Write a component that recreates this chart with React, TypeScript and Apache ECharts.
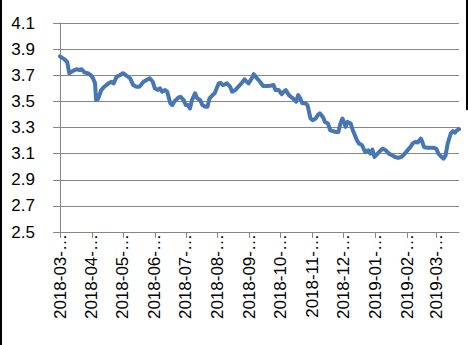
import React, { useEffect, useRef } from "react";
import * as echarts from "echarts";

// Dates (yyyy-mm-dd) and yield values
const dates: string[] = [
  "2018-03-01","2018-03-06","2018-03-08","2018-03-10","2018-03-14","2018-03-17","2018-03-20","2018-03-22","2018-03-25","2018-03-28","2018-03-31",
  "2018-04-02","2018-04-04","2018-04-05","2018-04-07","2018-04-10","2018-04-13","2018-04-17","2018-04-20","2018-04-22","2018-04-25","2018-04-28",
  "2018-05-01","2018-05-04","2018-05-08","2018-05-11","2018-05-14","2018-05-17","2018-05-21","2018-05-24","2018-05-27","2018-05-30",
  "2018-06-01","2018-06-04","2018-06-06","2018-06-08","2018-06-11","2018-06-13","2018-06-16","2018-06-18","2018-06-20","2018-06-24","2018-06-26","2018-06-29",
  "2018-07-01","2018-07-03","2018-07-05","2018-07-07","2018-07-10","2018-07-12","2018-07-15","2018-07-17","2018-07-20","2018-07-22","2018-07-24","2018-07-27","2018-07-29",
  "2018-08-02","2018-08-04","2018-08-06","2018-08-10","2018-08-13","2018-08-15","2018-08-18","2018-08-21","2018-08-24","2018-08-27","2018-08-29","2018-08-31",
  "2018-09-03","2018-09-05","2018-09-08","2018-09-11","2018-09-14","2018-09-18","2018-09-21","2018-09-24","2018-09-26","2018-09-29",
  "2018-10-02","2018-10-04","2018-10-06","2018-10-09","2018-10-11","2018-10-13","2018-10-16","2018-10-18","2018-10-20","2018-10-22","2018-10-25","2018-10-27","2018-10-30",
  "2018-11-01","2018-11-04","2018-11-06","2018-11-08","2018-11-11","2018-11-13","2018-11-16","2018-11-18","2018-11-21","2018-11-23","2018-11-26","2018-11-28","2018-11-30",
  "2018-12-02","2018-12-03","2018-12-05","2018-12-08","2018-12-10","2018-12-12","2018-12-14","2018-12-16","2018-12-19","2018-12-22","2018-12-25","2018-12-27","2018-12-29","2018-12-31",
  "2019-01-03","2019-01-06","2019-01-08","2019-01-11","2019-01-14","2019-01-17","2019-01-20","2019-01-23","2019-01-26","2019-01-28",
  "2019-02-01","2019-02-04","2019-02-06","2019-02-09","2019-02-11","2019-02-14","2019-02-15","2019-02-17","2019-02-20","2019-02-23","2019-02-26",
  "2019-03-01","2019-03-03","2019-03-06","2019-03-08","2019-03-10","2019-03-12","2019-03-15","2019-03-17","2019-03-19","2019-03-21","2019-03-23",
];

const values: number[] = [
  3.845, 3.818, 3.8, 3.715, 3.735, 3.746, 3.74, 3.746, 3.72, 3.715, 3.7,
  3.677, 3.638, 3.51, 3.52, 3.587, 3.612, 3.638, 3.65, 3.638, 3.69, 3.7,
  3.715, 3.7, 3.677, 3.625, 3.612, 3.612, 3.65, 3.664, 3.677, 3.65,
  3.6, 3.587, 3.6, 3.574, 3.587, 3.574, 3.485, 3.472, 3.5, 3.53, 3.535, 3.51,
  3.472, 3.472, 3.446, 3.51, 3.562, 3.523, 3.51, 3.472, 3.459, 3.459, 3.523, 3.548, 3.562,
  3.638, 3.64, 3.625, 3.638, 3.612, 3.574, 3.587, 3.612, 3.638, 3.669, 3.65, 3.638,
  3.677, 3.708, 3.677, 3.65, 3.618, 3.618, 3.62, 3.625, 3.587, 3.587,
  3.556, 3.574, 3.587, 3.548, 3.535, 3.523, 3.497, 3.548, 3.523, 3.485, 3.485, 3.472, 3.369,
  3.356, 3.369, 3.395, 3.408, 3.38, 3.343, 3.33, 3.279, 3.272, 3.266, 3.266, 3.33, 3.369,
  3.33, 3.305, 3.343, 3.33, 3.279, 3.24, 3.202, 3.177, 3.164, 3.112, 3.125, 3.1, 3.131, 3.074,
  3.1, 3.125, 3.138, 3.125, 3.1, 3.087, 3.074, 3.067, 3.074, 3.087,
  3.125, 3.151, 3.177, 3.19, 3.185, 3.215, 3.2, 3.151, 3.145, 3.145, 3.145,
  3.138, 3.1, 3.074, 3.062, 3.087, 3.177, 3.254, 3.272, 3.26, 3.279, 3.287,
];

const yTicks: number[] = [2.5, 2.7, 2.9, 3.1, 3.3, 3.5, 3.7, 3.9, 4.1];
const monthLabels: string[] = [
  "2018-03", "2018-04", "2018-05", "2018-06", "2018-07", "2018-08", "2018-09",
  "2018-10", "2018-11", "2018-12", "2019-01", "2019-02", "2019-03",
];
const xMin = "2018-03-01";
const xMax = "2019-03-23";

const toTime = (s: string): number => {
  const [y, m, d] = s.split("-").map(Number);
  return new Date(y, m - 1, d || 1).getTime();
};

export default function App() {
  const ref = useRef<HTMLDivElement>(null);

  useEffect(() => {
    if (!ref.current) return;
    const chart = echarts.init(ref.current, undefined, { renderer: "svg" });
    const monthTimes = monthLabels.map((m) => toTime(m + "-01"));
    const font = "Liberation Sans";
    const gray = "#868686";
    chart.setOption({
      animation: false,
      backgroundColor: "#ffffff",
      grid: { left: 60, right: 9, top: 23, bottom: 113 },
      xAxis: {
        type: "value",
        min: toTime(xMin),
        max: toTime(xMax),
        axisLine: { show: true, lineStyle: { color: gray, width: 1 } },
        axisTick: {
          show: true,
          customValues: monthTimes,
          length: 6,
          lineStyle: { color: gray, width: 1 },
        },
        splitLine: { show: false },
        axisLabel: {
          customValues: monthTimes,
          rotate: 90,
          margin: 2,
          color: "#000",
          fontFamily: font,
          fontSize: 17,
          formatter: (v: number) => {
            const i = monthTimes.indexOf(v);
            return i >= 0 ? monthLabels[i] + "-…" : "";
          },
        },
      },
      yAxis: {
        type: "value",
        min: 2.5,
        max: 4.1,
        axisLine: { show: true, lineStyle: { color: gray, width: 1 } },
        axisTick: {
          show: true,
          customValues: yTicks,
          length: 7,
          lineStyle: { color: gray, width: 1 },
        },
        splitLine: { show: true, lineStyle: { color: gray, width: 1 } },
        axisLabel: {
          customValues: yTicks,
          margin: 25,
          color: "#000",
          fontFamily: font,
          fontSize: 17,
          formatter: (v: number) => v.toFixed(1),
        },
      },
      series: [
        {
          type: "line",
          data: dates.map((d, i) => [toTime(d), values[i]]),
          symbol: "none",
          lineStyle: { color: "#4776b6", width: 4, join: "round", cap: "round" },
          itemStyle: { color: "#4776b6" },
        },
      ],
      graphic: [
        { type: "rect", left: 0, top: 0, shape: { width: 2, height: 345 }, style: { fill: "#000" } },
        { type: "rect", left: 466, top: 0, shape: { width: 2, height: 110 }, style: { fill: "#000" } },
      ],
    });
    return () => chart.dispose();
  }, []);

  return (
    <div
      ref={ref}
      style={{ position: "absolute", left: 0, top: 0, width: 468, height: 345 }}
    />
  );
}
